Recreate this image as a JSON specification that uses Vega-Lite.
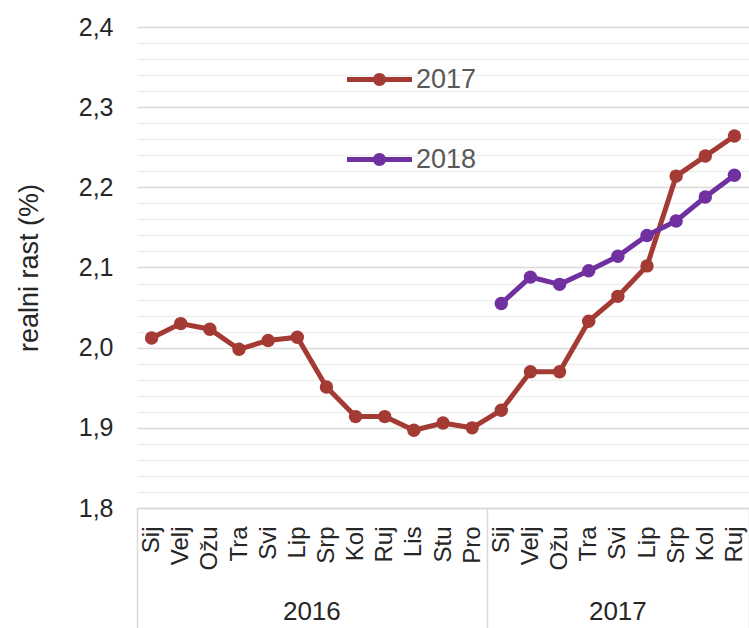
{
  "$schema": "https://vega.github.io/schema/vega-lite/v6.json",
  "width": 612,
  "height": 481,
  "autosize": {"type": "none"},
  "padding": {"left": 137, "top": 27, "right": 0, "bottom": 120},
  "background": "white",
  "config": {"font": "Liberation Sans", "view": {"stroke": null}},
  "data": {
    "values": [
      {"idx": 0, "year": "2016", "series": "2017", "value": 2.012},
      {"idx": 1, "year": "2016", "series": "2017", "value": 2.030},
      {"idx": 2, "year": "2016", "series": "2017", "value": 2.023},
      {"idx": 3, "year": "2016", "series": "2017", "value": 1.998},
      {"idx": 4, "year": "2016", "series": "2017", "value": 2.009},
      {"idx": 5, "year": "2016", "series": "2017", "value": 2.013},
      {"idx": 6, "year": "2016", "series": "2017", "value": 1.951},
      {"idx": 7, "year": "2016", "series": "2017", "value": 1.914},
      {"idx": 8, "year": "2016", "series": "2017", "value": 1.914},
      {"idx": 9, "year": "2016", "series": "2017", "value": 1.897},
      {"idx": 10, "year": "2016", "series": "2017", "value": 1.906},
      {"idx": 11, "year": "2016", "series": "2017", "value": 1.900},
      {"idx": 12, "year": "2017", "series": "2017", "value": 1.922},
      {"idx": 13, "year": "2017", "series": "2017", "value": 1.970},
      {"idx": 14, "year": "2017", "series": "2017", "value": 1.970},
      {"idx": 15, "year": "2017", "series": "2017", "value": 2.033},
      {"idx": 16, "year": "2017", "series": "2017", "value": 2.064},
      {"idx": 17, "year": "2017", "series": "2017", "value": 2.102},
      {"idx": 18, "year": "2017", "series": "2017", "value": 2.214},
      {"idx": 19, "year": "2017", "series": "2017", "value": 2.239},
      {"idx": 20, "year": "2017", "series": "2017", "value": 2.264},
      {"idx": 12, "year": "2017", "series": "2018", "value": 2.055},
      {"idx": 13, "year": "2017", "series": "2018", "value": 2.088},
      {"idx": 14, "year": "2017", "series": "2018", "value": 2.079},
      {"idx": 15, "year": "2017", "series": "2018", "value": 2.096},
      {"idx": 16, "year": "2017", "series": "2018", "value": 2.114},
      {"idx": 17, "year": "2017", "series": "2018", "value": 2.140},
      {"idx": 18, "year": "2017", "series": "2018", "value": 2.158},
      {"idx": 19, "year": "2017", "series": "2018", "value": 2.188},
      {"idx": 20, "year": "2017", "series": "2018", "value": 2.215}
    ]
  },
  "layer": [
    {
      "mark": {"type": "line", "strokeWidth": 5, "point": {"size": 180, "filled": true, "opacity": 1}},
      "encoding": {
        "x": {
          "field": "idx",
          "type": "quantitative",
          "scale": {"domain": [-0.5, 20.5], "nice": false, "zero": false},
          "axis": {
            "title": null,
            "grid": false,
            "tickCount": 200,
            "values": [-0.5, 0, 1, 2, 3, 4, 5, 6, 7, 8, 9, 10, 11, 11.5, 12, 13, 14, 15, 16, 17, 18, 19, 20, 20.5],
            "labelExpr": "datum.value % 1 != 0 ? '' : ['Sij','Velj','Ožu','Tra','Svi','Lip','Srp','Kol','Ruj','Lis','Stu','Pro'][datum.value % 12]",
            "labelAngle": 270,
            "labelAlign": "right",
            "labelBaseline": "middle",
            "labelFontSize": 24,
            "labelColor": "#262626",
            "labelPadding": -102,
            "labelOverlap": false,
            "labelBound": false,
            "labelFlush": false,
            "tickSize": 120,
            "tickWidth": 1.5,
            "tickColor": {"condition": {"test": "datum.value % 1 != 0", "value": "#d9d9d9"}, "value": "transparent"},
            "domainColor": "#d9d9d9",
            "domainWidth": 1.5
          }
        },
        "y": {
          "field": "value",
          "type": "quantitative",
          "scale": {"domain": [1.8, 2.4], "nice": false, "zero": false},
          "axis": {
            "tickCount": 200,
            "values": [1.8, 1.82, 1.84, 1.86, 1.88, 1.9, 1.92, 1.94, 1.96, 1.98, 2.0, 2.02, 2.04, 2.06, 2.08, 2.1, 2.12, 2.14, 2.16, 2.18, 2.2, 2.22, 2.24, 2.26, 2.28, 2.3, 2.32, 2.34, 2.36, 2.38, 2.4],
            "labelExpr": "abs(datum.value*10 - round(datum.value*10)) < 0.001 ? replace(format(datum.value, '.1f'), '.', ',') : ''",
            "gridColor": {"condition": {"test": "abs(datum.value*10 - round(datum.value*10)) < 0.001", "value": "#d9d9d9"}, "value": "#eeeeee"},
            "gridWidth": 1.5,
            "domain": false,
            "ticks": false,
            "labelOverlap": false,
            "labelFontSize": 25,
            "labelPadding": 24,
            "labelColor": "#262626",
            "title": "realni rast (%)",
            "titleFontSize": 27,
            "titleFontWeight": "normal",
            "titleColor": "#262626",
            "titlePadding": 35
          }
        },
        "color": {
          "field": "series",
          "type": "nominal",
          "scale": {"domain": ["2017", "2018"], "range": ["#A33A33", "#7030A0"]},
          "legend": {
            "title": null,
            "orient": "none",
            "legendX": 210,
            "legendY": 20,
            "symbolType": "M-1,-0.077L1,-0.077L1,0.077L-1,0.077Z M0.2,0A0.2,0.2 0 1,1 -0.2,0A0.2,0.2 0 1,1 0.2,0Z",
            "symbolSize": 4225,
            "symbolStrokeWidth": 0,
            "labelFontSize": 27,
            "labelColor": "#595959",
            "labelOffset": 4,
            "rowPadding": 34,
            "encode": {"symbols": {"update": {"fill": {"scale": "color", "field": "value"}, "opacity": {"value": 1}}}}
          }
        }
      }
    },
    {
      "mark": {"type": "text", "fontSize": 26, "color": "#262626", "baseline": "middle", "align": "center"},
      "encoding": {
        "x": {"aggregate": "mean", "field": "idx", "type": "quantitative"},
        "y": {"datum": 1.67},
        "text": {"field": "year"}
      }
    }
  ]
}
